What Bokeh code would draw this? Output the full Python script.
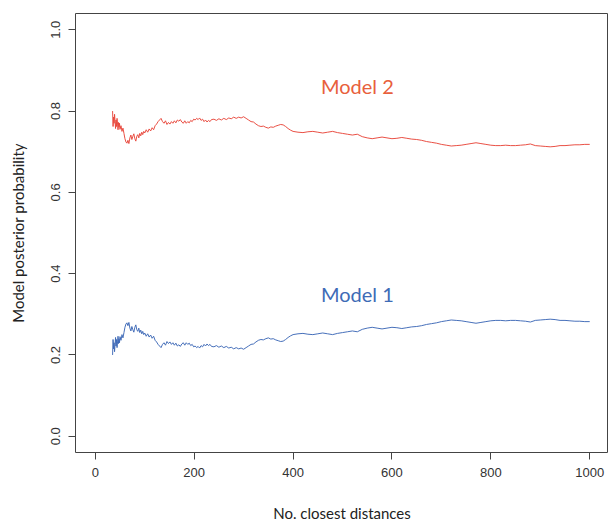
from bokeh.plotting import figure
from bokeh.models import Range1d, FixedTicker
from bokeh.core.properties import value
from bokeh.embed import file_html
from bokeh.resources import INLINE

# Number of closest distances retained
n_closest = [35, 36, 37, 38, 39, 40, 41, 42, 43, 44, 45, 46, 47, 48, 49, 50, 52, 54, 56, 58,
             60, 62, 64, 66, 68, 70, 72, 74, 76, 78, 80, 82, 84, 86, 88, 90, 92, 94, 96, 98,
             100, 103, 106, 109, 112, 115, 118, 121, 124, 127, 130, 133, 136, 139, 142, 145,
             148, 151, 154, 157, 160, 163, 166, 169, 172, 175, 178, 181, 184, 187, 190, 193,
             196, 199, 202, 205, 208, 211, 214, 217, 220, 223, 226, 229, 232, 235, 240, 245,
             250, 255, 260, 265, 270, 275, 280, 285, 290, 295, 300, 305, 310, 315, 320, 325,
             330, 335, 340, 345, 350, 355, 360, 365, 370, 375, 380, 385, 390, 395, 400, 410,
             420, 430, 440, 450, 460, 470, 480, 490, 500, 510, 520, 530, 540, 550, 560, 570,
             580, 590, 600, 610, 620, 630, 640, 650, 660, 670, 680, 690, 700, 710, 720, 730,
             740, 750, 760, 770, 780, 790, 800, 810, 820, 830, 840, 850, 860, 870, 880, 890,
             900, 910, 920, 930, 940, 950, 960, 970, 980, 990, 1000]

# Posterior probability of Model 1
model1 = [0.200, 0.238, 0.215, 0.230, 0.208, 0.226, 0.243, 0.222, 0.238, 0.218, 0.232, 0.246,
          0.228, 0.240, 0.230, 0.245, 0.236, 0.250, 0.242, 0.255, 0.268, 0.276, 0.279, 0.272,
          0.280, 0.266, 0.259, 0.270, 0.262, 0.256, 0.268, 0.274, 0.262, 0.258, 0.266, 0.255,
          0.261, 0.252, 0.258, 0.250, 0.254, 0.246, 0.252, 0.244, 0.249, 0.241, 0.246, 0.236,
          0.232, 0.226, 0.222, 0.218, 0.226, 0.230, 0.224, 0.233, 0.228, 0.232, 0.226, 0.230,
          0.224, 0.229, 0.222, 0.225, 0.221, 0.227, 0.230, 0.224, 0.230, 0.226, 0.229, 0.223,
          0.226, 0.220, 0.222, 0.218, 0.221, 0.217, 0.223, 0.220, 0.226, 0.222, 0.227, 0.223,
          0.226, 0.221, 0.220, 0.223, 0.219, 0.222, 0.218, 0.221, 0.217, 0.219, 0.215, 0.218,
          0.215, 0.217, 0.214, 0.218, 0.222, 0.226, 0.227, 0.232, 0.236, 0.238, 0.237, 0.240,
          0.242, 0.239, 0.240, 0.237, 0.235, 0.233, 0.234, 0.238, 0.243, 0.247, 0.250, 0.252,
          0.253, 0.251, 0.250, 0.252, 0.254, 0.252, 0.250, 0.253, 0.255, 0.257, 0.259, 0.257,
          0.263, 0.266, 0.268, 0.266, 0.264, 0.266, 0.268, 0.267, 0.265, 0.267, 0.269, 0.270,
          0.272, 0.275, 0.277, 0.279, 0.282, 0.284, 0.286, 0.285, 0.284, 0.282, 0.280, 0.278,
          0.280, 0.282, 0.284, 0.285, 0.285, 0.284, 0.285, 0.285, 0.284, 0.283, 0.281, 0.285,
          0.286, 0.287, 0.288, 0.287, 0.285, 0.285, 0.284, 0.283, 0.283, 0.282, 0.282]

# Posterior probability of Model 2
model2 = [0.800, 0.762, 0.785, 0.770, 0.792, 0.774, 0.757, 0.778, 0.762, 0.782, 0.768, 0.754,
          0.772, 0.760, 0.770, 0.755, 0.764, 0.750, 0.758, 0.745, 0.732, 0.724, 0.721, 0.728,
          0.720, 0.734, 0.741, 0.730, 0.738, 0.744, 0.732, 0.726, 0.738, 0.742, 0.734, 0.745,
          0.739, 0.748, 0.742, 0.750, 0.746, 0.754, 0.748, 0.756, 0.751, 0.759, 0.754, 0.764,
          0.768, 0.774, 0.778, 0.782, 0.774, 0.770, 0.776, 0.767, 0.772, 0.768, 0.774, 0.770,
          0.776, 0.771, 0.778, 0.775, 0.779, 0.773, 0.770, 0.776, 0.770, 0.774, 0.771, 0.777,
          0.774, 0.780, 0.778, 0.782, 0.779, 0.783, 0.777, 0.780, 0.774, 0.778, 0.773, 0.777,
          0.774, 0.779, 0.780, 0.777, 0.781, 0.778, 0.782, 0.779, 0.783, 0.781, 0.785, 0.782,
          0.785, 0.783, 0.786, 0.782, 0.778, 0.774, 0.773, 0.768, 0.764, 0.762, 0.763, 0.760,
          0.758, 0.761, 0.760, 0.763, 0.765, 0.767, 0.766, 0.762, 0.757, 0.753, 0.750, 0.748,
          0.747, 0.749, 0.750, 0.748, 0.746, 0.748, 0.750, 0.747, 0.745, 0.743, 0.741, 0.743,
          0.737, 0.734, 0.732, 0.734, 0.736, 0.734, 0.732, 0.733, 0.735, 0.733, 0.731, 0.730,
          0.728, 0.725, 0.723, 0.721, 0.718, 0.716, 0.714, 0.715, 0.716, 0.718, 0.720, 0.722,
          0.720, 0.718, 0.716, 0.715, 0.715, 0.716, 0.715, 0.715, 0.716, 0.717, 0.719, 0.715,
          0.714, 0.713, 0.712, 0.713, 0.715, 0.715, 0.716, 0.717, 0.717, 0.718, 0.718]

x_ticks = [0, 200, 400, 600, 800, 1000]
y_ticks = [0.0, 0.2, 0.4, 0.6, 0.8, 1.0]
y_tick_labels = {0.0: "0.0", 0.2: "0.2", 0.4: "0.4", 0.6: "0.6", 0.8: "0.8", 1.0: "1.0"}

series_labels = ["Model 1", "Model 2"]
label_x = [530, 530]
label_y = [0.349, 0.862]

RED = "#E8473B"
BLUE = "#3D68B6"

p = figure(width=608, height=524,
           x_range=Range1d(-40, 1038), y_range=Range1d(-0.04, 1.04),
           output_backend="svg", toolbar_location=None,
           min_border_left=75, min_border_right=0, min_border_top=13, min_border_bottom=64)

p.line(n_closest, model2, line_color=RED, line_width=1, line_alpha=0.95)
p.line(n_closest, model1, line_color=BLUE, line_width=1, line_alpha=0.95)

p.text(x=[label_x[1]], y=[label_y[1]], text=[series_labels[1]], text_align="center",
       text_baseline="middle", text_font=value("Lato"), text_font_size="20px", text_color="#E8603C")
p.text(x=[label_x[0]], y=[label_y[0]], text=[series_labels[0]], text_align="center",
       text_baseline="middle", text_font=value("Lato"), text_font_size="20px", text_color="#3E6BB6")

p.xgrid.visible = False
p.ygrid.visible = False
p.outline_line_color = "#444444"
p.outline_line_width = 1
p.background_fill_color = "white"
p.border_fill_color = "white"

for ax in (p.xaxis[0], p.yaxis[0]):
    ax.axis_line_color = None
    ax.major_tick_line_color = "#444444"
    ax.major_tick_in = 0
    ax.major_tick_out = 7
    ax.minor_tick_line_color = None
    ax.major_label_text_font = "Liberation Sans"
    ax.major_label_text_font_size = "13px"
    ax.major_label_text_color = "#333333"
    ax.major_label_standoff = 8
    ax.axis_label_text_font = "Lato"
    ax.axis_label_text_font_size = "15px"
    ax.axis_label_text_font_style = "normal"
    ax.axis_label_text_color = "#222222"

p.xaxis[0].ticker = FixedTicker(ticks=x_ticks)
p.yaxis[0].ticker = FixedTicker(ticks=y_ticks)
p.yaxis[0].major_label_overrides = y_tick_labels
p.yaxis[0].major_label_orientation = "vertical"
p.xaxis[0].axis_label = "No. closest distances"
p.yaxis[0].axis_label = "Model posterior probability"
p.xaxis[0].axis_label_standoff = 24
p.yaxis[0].axis_label_standoff = 22

open("out.html", "w").write(file_html(p, INLINE))
